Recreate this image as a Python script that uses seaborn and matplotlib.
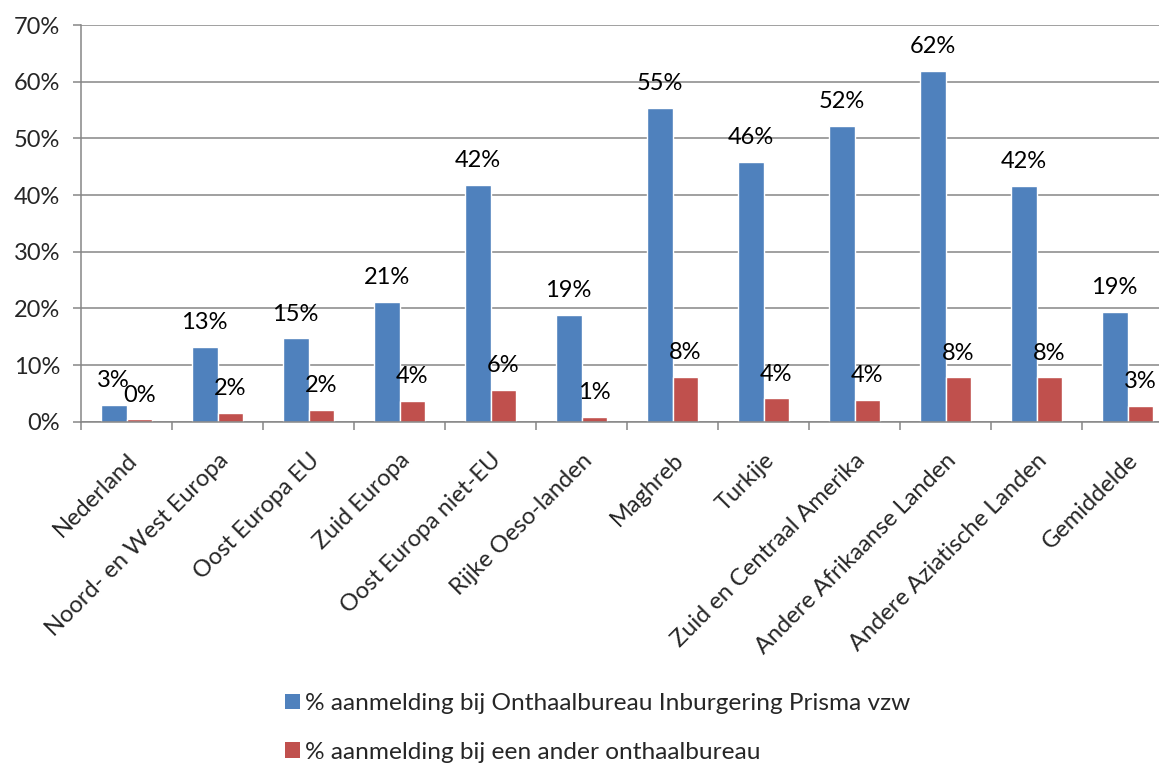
import matplotlib
matplotlib.use('Agg')
import matplotlib.pyplot as plt
from matplotlib.ticker import PercentFormatter, FixedLocator
from matplotlib.patches import Patch
import pandas as pd
import seaborn as sns

# Data (percent)
regions = [
    'Nederland', 'Noord- en West Europa', 'Oost Europa EU', 'Zuid Europa',
    'Oost Europa niet-EU', 'Rijke Oeso-landen', 'Maghreb', 'Turkije',
    'Zuid en Centraal Amerika', 'Andere Afrikaanse Landen',
    'Andere Aziatische Landen', 'Gemiddelde',
]
prisma = [2.9, 13.2, 14.7, 21.2, 41.7, 18.8, 55.3, 45.8, 52.2, 61.9, 41.6, 19.4]
ander = [0.4, 1.5, 2.1, 3.6, 5.6, 0.9, 7.9, 4.1, 3.8, 7.8, 7.8, 2.8]

series_names = [
    '% aanmelding bij Onthaalbureau Inburgering Prisma vzw',
    '% aanmelding bij een ander onthaalbureau',
]
colors = ['#4F81BD', '#C0504D']
grey = '#868686'

df = pd.DataFrame({
    'regio': regions * 2,
    'pct': prisma + ander,
    'reeks': [series_names[0]] * len(regions) + [series_names[1]] * len(regions),
})

sns.set_theme(style='white')
plt.rcParams['font.family'] = ['Lato', 'DejaVu Sans']
fs = 17

fig = plt.figure(figsize=(11.59, 7.64), dpi=100)
ax = fig.add_axes([81 / 1159, (764 - 421.7) / 764, (1173 - 81) / 1159, (421.7 - 25) / 764])

sns.barplot(data=df, x='regio', y='pct', hue='reeks', order=regions,
            hue_order=series_names, palette=colors, width=0.57, gap=0,
            saturation=1, legend=False, ax=ax)

# data labels
for cont in ax.containers:
    vals = [b.get_height() for b in cont]
    ax.bar_label(cont, labels=[f'{v:.0f}%' for v in vals], padding=10,
                 fontsize=fs, color='black')

ax.set_ylim(0, 70)
ax.set_xlim(-0.5, len(regions) - 0.5)
ax.yaxis.set_major_locator(FixedLocator(range(0, 71, 10)))
ax.yaxis.set_major_formatter(PercentFormatter(xmax=100, decimals=0))
ax.grid(axis='y', color=grey, linewidth=1.1)
ax.set_axisbelow(True)

ax.set_xlabel('')
ax.set_ylabel('')
ax.set_xticks(range(len(regions)))
ax.set_xticklabels(regions, rotation=45, ha='right', va='top',
                   rotation_mode='anchor', fontsize=fs)
ax.set_xticks([i - 0.5 for i in range(len(regions) + 1)], minor=True)
ax.tick_params(axis='x', which='major', length=0, pad=20)
ax.tick_params(axis='x', which='minor', length=6, width=1.1, color=grey,
               direction='out', bottom=True)
ax.tick_params(axis='y', length=6, width=1.1, color=grey, direction='out',
               left=True, labelsize=fs, pad=9)

for side in ['top', 'right']:
    ax.spines[side].set_visible(False)
for side in ['left', 'bottom']:
    ax.spines[side].set_color(grey)
    ax.spines[side].set_linewidth(1.1)

handles = [Patch(facecolor=c, edgecolor='none') for c in colors]
fig.legend(handles, series_names, loc='upper left',
           bbox_to_anchor=(273 / 1159, 1 - 681 / 764), frameon=False,
           fontsize=17.6, handlelength=0.6, handleheight=0.6,
           handletextpad=0.2, labelspacing=1.12, borderpad=0)

fig.savefig('out.png', dpi=100)
